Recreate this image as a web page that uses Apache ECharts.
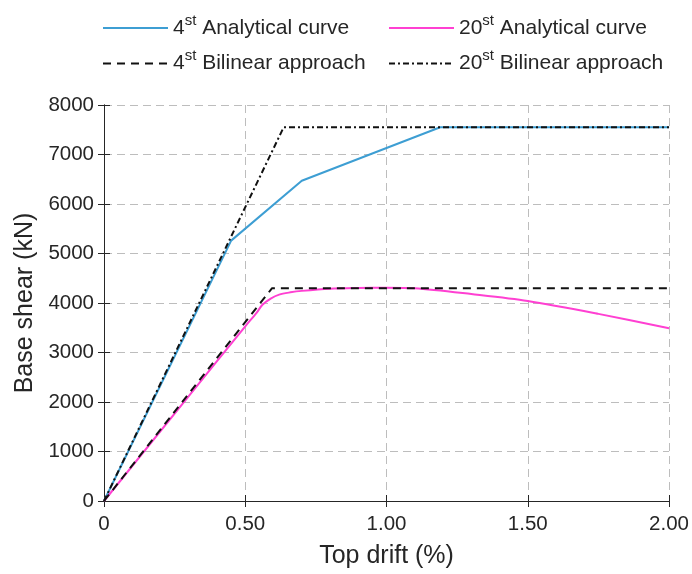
<!DOCTYPE html>
<html><head><meta charset="utf-8">
<script src="https://cdn.jsdelivr.net/npm/echarts@6/dist/echarts.min.js"></script>
<style>html,body{margin:0;padding:0;background:#fff}#c{width:692px;height:574px}</style>
</head><body><div id="c"></div>
<script>
// Data
const names = ['4st Analytical curve', '20st Analytical curve', '4st Bilinear approach', '20st Bilinear approach'];
const xTicks = [0, 0.5, 1.0, 1.5, 2.0];
const yTicks = [0, 1000, 2000, 3000, 4000, 5000, 6000, 7000, 8000];
const analytical4 = [[0,0],[0.45,5260],[0.70,6470],[1.19,7550],[2.0,7550]];
const analytical20 = [[0,0],[0.30,2120],[0.50,3530],[0.54,3800],[0.56,3960],[0.59,4090],[0.62,4170],[0.66,4215],[0.70,4245],[0.80,4290],[0.90,4305],[1.00,4310],[1.10,4298],[1.30,4180],[1.50,4040],[1.75,3780],[2.0,3490]];
const bilinear4 = [[0,0],[0.595,4300],[2.0,4300]];
const bilinear20 = [[0,0],[0.636,7550],[2.0,7550]];

const FONT = 'Liberation Sans';
const TXT = '#262626';
const chart = echarts.init(document.getElementById('c'), null, {renderer: 'canvas'});

function legendFmt(name) {
  const m = name.match(/^(\d+)st (.*)$/);
  return '{n|' + m[1] + '}{s|st}{n| ' + m[2] + '}';
}
const rich = {
  n: {fontSize: 21, fontFamily: FONT, color: TXT, lineHeight: 30},
  s: {fontSize: 15, fontFamily: FONT, color: TXT, verticalAlign: 'top'}
};

const axisLine = {show: true, lineStyle: {color: '#262626', width: 1}};
const grid = {left: 104, right: 21, top: 105, bottom: 71};
const legendBase = {orient: 'vertical', top: 8, itemWidth: 65, itemHeight: 4, itemGap: 10,
  formatter: legendFmt, textStyle: {rich: rich}, itemStyle: {opacity: 0}};

chart.setOption({
  animation: false,
  backgroundColor: '#fff',
  legend: [
    Object.assign({data: [names[0], names[2]], left: 97}, legendBase),
    Object.assign({data: [names[1], names[3]], left: 383}, legendBase)
  ],
  grid: grid,
  xAxis: [{
    type: 'value', min: 0, max: 2, interval: 0.5,
    name: 'Top drift (%)', nameLocation: 'middle', nameGap: 43,
    nameTextStyle: {fontSize: 25, fontFamily: FONT, color: TXT},
    axisLine: axisLine,
    axisTick: {show: true, inside: true, length: 6, lineStyle: {color: '#262626'}},
    axisLabel: {fontSize: 20.5, fontFamily: FONT, color: TXT, margin: 13,
      formatter: v => v === 0 ? '0' : v.toFixed(2)},
    splitLine: {show: true, lineStyle: {color: '#bdbdbd', type: [8, 5], width: 1}}
  }, {
    type: 'value', min: 0, max: 2, interval: 0.5, position: 'top',
    axisLine: axisLine, axisTick: {show: true, inside: true, length: 6, lineStyle: {color: '#262626'}},
    axisLabel: {show: false}, splitLine: {show: false}
  }],
  yAxis: [{
    type: 'value', min: 0, max: 8000, interval: 1000,
    name: 'Base shear (kN)', nameLocation: 'middle', nameGap: 56,
    nameTextStyle: {fontSize: 25, fontFamily: FONT, color: TXT},
    axisLine: axisLine,
    axisTick: {show: true, inside: true, length: 6, lineStyle: {color: '#262626'}},
    axisLabel: {fontSize: 20.5, fontFamily: FONT, color: TXT, margin: 10, formatter: v => String(v)},
    splitLine: {show: true, lineStyle: {color: '#bdbdbd', type: [8, 5], width: 1}}
  }, {
    type: 'value', min: 0, max: 8000, interval: 1000, position: 'right',
    axisLine: axisLine, axisTick: {show: true, inside: true, length: 6, lineStyle: {color: '#262626'}},
    axisLabel: {show: false}, splitLine: {show: false}
  }],
  series: [
    {name: names[0], type: 'line', data: analytical4, symbol: 'none', z: 2,
     lineStyle: {color: '#3d9ed3', width: 2}, itemStyle: {color: '#3d9ed3'}},
    {name: names[1], type: 'line', data: analytical20, symbol: 'none', smooth: 0.3, z: 2,
     lineStyle: {color: '#ff40d2', width: 2}, itemStyle: {color: '#ff40d2'}},
    {name: names[2], type: 'line', data: bilinear4, symbol: 'none', z: 3,
     lineStyle: {color: '#111', width: 2, type: [8, 6]}, itemStyle: {color: '#111'}},
    {name: names[3], type: 'line', data: bilinear20, symbol: 'none', z: 3,
     lineStyle: {color: '#111', width: 2, type: [6, 3, 2, 3]}, itemStyle: {color: '#111'}}
  ]
});
</script></body></html>
